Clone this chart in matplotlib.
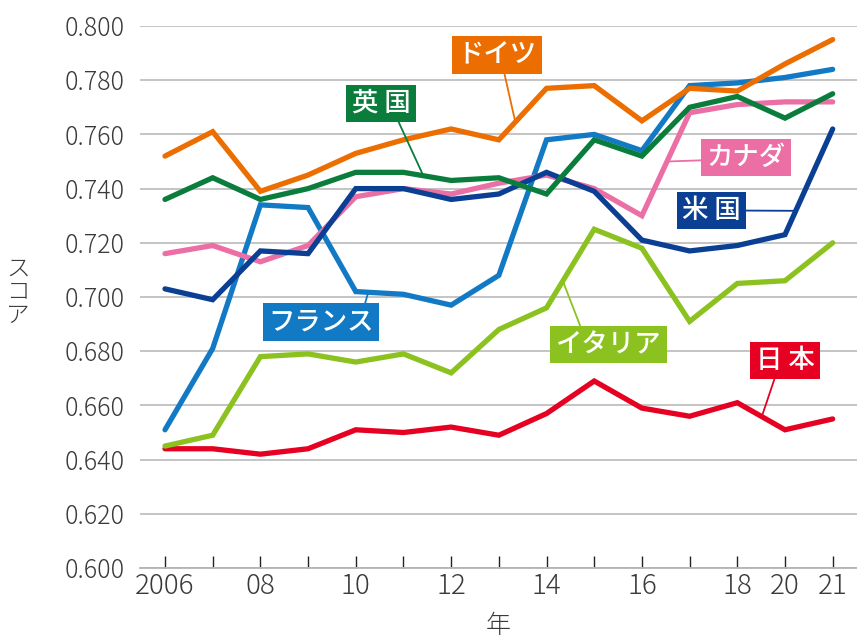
import matplotlib
matplotlib.use("Agg")
import matplotlib.pyplot as plt

plt.rcParams['font.family'] = ['Noto Sans CJK JP', 'DejaVu Sans']

years = ['2006', '07', '08', '09', '10', '11', '12', '13', '14', '15', '16', '17', '18', '20', '21']
tick_labels = ['2006', '', '08', '', '10', '', '12', '', '14', '', '16', '', '18', '20', '21']

japan = [0.644, 0.644, 0.642, 0.644, 0.651, 0.650, 0.652, 0.649, 0.657, 0.669, 0.659, 0.656, 0.661, 0.651, 0.655]
italy = [0.645, 0.649, 0.678, 0.679, 0.676, 0.679, 0.672, 0.688, 0.696, 0.725, 0.718, 0.691, 0.705, 0.706, 0.720]
france = [0.651, 0.681, 0.734, 0.733, 0.702, 0.701, 0.697, 0.708, 0.758, 0.760, 0.754, 0.778, 0.779, 0.781, 0.784]
canada = [0.716, 0.719, 0.713, 0.719, 0.737, 0.740, 0.738, 0.742, 0.745, 0.740, 0.730, 0.768, 0.771, 0.772, 0.772]
usa = [0.703, 0.699, 0.717, 0.716, 0.740, 0.740, 0.736, 0.738, 0.746, 0.739, 0.721, 0.717, 0.719, 0.723, 0.762]
uk = [0.736, 0.744, 0.736, 0.740, 0.746, 0.746, 0.743, 0.744, 0.738, 0.758, 0.752, 0.770, 0.774, 0.766, 0.775]
germany = [0.752, 0.761, 0.739, 0.745, 0.753, 0.758, 0.762, 0.758, 0.777, 0.778, 0.765, 0.777, 0.776, 0.786, 0.795]

# bottom to top drawing order
series = [
    ('日 本', japan, '#E60021'),
    ('イタリア', italy, '#8CC220'),
    ('フランス', france, '#127AC5'),
    ('カナダ', canada, '#EB6FA5'),
    ('米 国', usa, '#0A3F94'),
    ('英 国', uk, '#0A7D3C'),
    ('ドイツ', germany, '#EC6D00'),
]

# label box centre, leader end on the line, leader start on the box (relpos)
labels = {
    '日 本': ((13.0, 0.6766), (12.52, 0.6562), (0.35, 0.0)),
    'イタリア': ((9.30, 0.6825), (8.34, 0.7060), (0.25, 1.0)),
    'フランス': ((3.28, 0.6908), (4.26, 0.7016), (0.90, 1.0)),
    'カナダ': ((12.18, 0.7515), (10.53, 0.7500), (0.0, 0.4)),
    '米 国': ((11.46, 0.7319), (13.22, 0.7318), (1.0, 0.5)),
    '英 国': ((4.53, 0.7714), (5.39, 0.7458), (0.76, 0.0)),
    'ドイツ': ((6.96, 0.7893), (7.34, 0.7650), (0.58, 0.0)),
}

fig = plt.figure(figsize=(8.57, 6.42), dpi=100)
ax = fig.add_axes([140 / 857, 1 - 568 / 642, 1 - 140 / 857, (568 - 26) / 642])

x = list(range(len(years)))
for name, vals, col in series:
    ax.plot(x, vals, color=col, lw=3.8, solid_joinstyle='miter', solid_capstyle='round', zorder=3)

for name, vals, col in series:
    (bx, by), (tx, ty), rel = labels[name]
    ax.annotate(name, xy=(tx, ty), xytext=(bx, by), ha='center', va='center',
                color='white', fontsize=19, fontweight='medium', zorder=5,
                bbox=dict(boxstyle='square,pad=0.2', fc=col, ec='none'),
                arrowprops=dict(arrowstyle='-', color=col, lw=1.3, relpos=rel,
                                shrinkA=0, shrinkB=0))

ax.set_xlim(-0.524, 14.51)
ax.set_ylim(0.6, 0.8)
yt = [0.6 + 0.02 * i for i in range(11)]
ax.set_yticks(yt)
ax.set_yticklabels(['%.3f' % v for v in yt])
ax.set_xticks(x)
ax.set_xticklabels(tick_labels)

ax.grid(axis='y', color='#B4B4B4', lw=1.1, zorder=1)
for s in ['top', 'right', 'left']:
    ax.spines[s].set_visible(False)
ax.spines['bottom'].set_color('#B4B4B4')
ax.spines['bottom'].set_linewidth(1.3)
ax.tick_params(axis='y', length=0, pad=11, labelsize=18, labelcolor='#3A3A3A')
ax.tick_params(axis='x', direction='in', length=9, width=1, color='#222222',
               pad=3, labelsize=20, labelcolor='#3A3A3A')
for lab in ax.get_xticklabels() + ax.get_yticklabels():
    lab.set_fontweight('light')

ax.set_xlabel('年', fontsize=18, color='#3A3A3A', labelpad=9, fontweight='light')
fig.text(18 / 857, 1 - 292 / 642, 'ス\nコ\nア', ha='center', va='center',
         fontsize=17, color='#3A3A3A', linespacing=0.9, fontweight='light')

fig.savefig('out.png', dpi=100)
